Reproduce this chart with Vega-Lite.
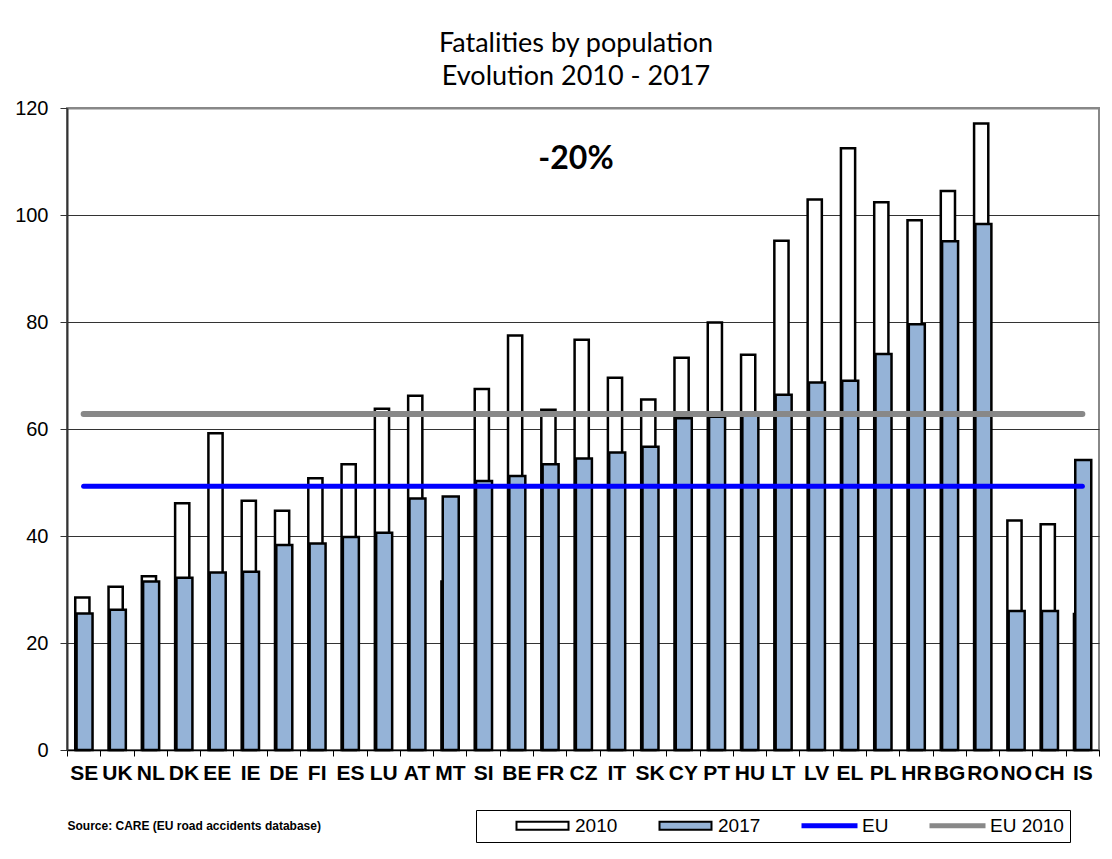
{
  "$schema": "https://vega.github.io/schema/vega-lite/v6.json",
  "width": 1032,
  "height": 642,
  "autosize": {"type": "none"},
  "padding": {"left": 67, "top": 108, "right": 13, "bottom": 109},
  "background": "white",
  "title": {
    "text": ["Fatalities by population", "Evolution 2010 - 2017"],
    "font": "Lato",
    "fontSize": 27,
    "fontWeight": "normal",
    "color": "black",
    "anchor": "middle",
    "lineHeight": 33,
    "offset": 7,
    "dx": -7
  },
  "datasets": {
    "bars": [
      {"country": "SE", "y2010": 28.5, "y2017": 25.5},
      {"country": "UK", "y2010": 30.5, "y2017": 26.2},
      {"country": "NL", "y2010": 32.5, "y2017": 31.5},
      {"country": "DK", "y2010": 46.1, "y2017": 32.2},
      {"country": "EE", "y2010": 59.2, "y2017": 33.2},
      {"country": "IE", "y2010": 46.6, "y2017": 33.3},
      {"country": "DE", "y2010": 44.7, "y2017": 38.3},
      {"country": "FI", "y2010": 50.8, "y2017": 38.6},
      {"country": "ES", "y2010": 53.4, "y2017": 39.8},
      {"country": "LU", "y2010": 63.8, "y2017": 40.6},
      {"country": "AT", "y2010": 66.2, "y2017": 47.0},
      {"country": "MT", "y2010": 31.5, "y2017": 47.4},
      {"country": "SI", "y2010": 67.5, "y2017": 50.3},
      {"country": "BE", "y2010": 77.5, "y2017": 51.2},
      {"country": "FR", "y2010": 63.6, "y2017": 53.4},
      {"country": "CZ", "y2010": 76.7, "y2017": 54.5},
      {"country": "IT", "y2010": 69.6, "y2017": 55.6},
      {"country": "SK", "y2010": 65.5, "y2017": 56.7},
      {"country": "CY", "y2010": 73.3, "y2017": 62.0},
      {"country": "PT", "y2010": 79.9, "y2017": 62.3},
      {"country": "HU", "y2010": 73.9, "y2017": 62.6},
      {"country": "LT", "y2010": 95.2, "y2017": 66.4},
      {"country": "LV", "y2010": 102.9, "y2017": 68.7},
      {"country": "EL", "y2010": 112.5, "y2017": 69.0},
      {"country": "PL", "y2010": 102.4, "y2017": 74.0},
      {"country": "HR", "y2010": 99.0, "y2017": 79.6},
      {"country": "BG", "y2010": 104.5, "y2017": 95.1},
      {"country": "RO", "y2010": 117.1, "y2017": 98.3},
      {"country": "NO", "y2010": 42.9, "y2017": 26.0},
      {"country": "CH", "y2010": 42.2, "y2017": 26.0},
      {"country": "IS", "y2010": 25.4, "y2017": 54.2}
    ],
    "eu": [
      {"country": "SE", "value": 49.3},
      {"country": "IS", "value": 49.3}
    ],
    "eu2010": [
      {"country": "SE", "value": 62.8},
      {"country": "IS", "value": 62.8}
    ],
    "note": [
      {"country": "CZ", "value": 110.5, "label": "-20%"}
    ],
    "legend": [
      {"series": "2010"},
      {"series": "2017"},
      {"series": "EU"},
      {"series": "EU 2010"}
    ]
  },
  "config": {
    "view": {"stroke": "#888888", "strokeWidth": 2},
    "axis": {
      "labelFont": "Liberation Sans",
      "labelColor": "#000000",
      "tickColor": "#000000",
      "domainColor": "#000000"
    },
    "axisX": {
      "labelFontSize": 21,
      "labelFontWeight": "bold",
      "labelAngle": 0,
      "tickBand": "extent",
      "tickSize": 6,
      "labelPadding": 6,
      "domainWidth": 1.5,
      "grid": false,
      "titleFont": "Liberation Sans",
      "titleFontSize": 12,
      "titleFontWeight": "bold",
      "titleColor": "#000000",
      "titleAnchor": "start",
      "titlePadding": 37
    },
    "axisY": {
      "labelFontSize": 20,
      "tickSize": 7,
      "tickColor": "#333333",
      "labelPadding": 12,
      "domainWidth": 2,
      "domainColor": "#333333",
      "grid": true
    }
  },
  "layer": [
    {
      "data": {"name": "bars"},
      "mark": {"type": "bar", "size": 14.2, "fill": "white", "stroke": "black", "strokeWidth": 2.5, "xOffset": -1.3},
      "encoding": {
        "x": {
          "field": "country",
          "type": "nominal",
          "sort": ["SE","UK","NL","DK","EE","IE","DE","FI","ES","LU","AT","MT","SI","BE","FR","CZ","IT","SK","CY","PT","HU","LT","LV","EL","PL","HR","BG","RO","NO","CH","IS"],
          "scale": {"paddingInner": 0, "paddingOuter": 0},
          "title": "Source: CARE (EU road accidents database)"
        },
        "y": {
          "field": "y2010",
          "type": "quantitative",
          "scale": {"domain": [0, 120], "nice": false},
          "title": null,
          "axis": {
            "values": [0, 20, 40, 60, 80, 100, 120],
            "gridColor": {"condition": {"test": "datum.value === 120", "value": "#888888"}, "value": "#333333"},
            "gridWidth": {"condition": {"test": "datum.value === 120", "value": 2}, "value": 1}
          }
        }
      }
    },
    {
      "data": {"name": "bars"},
      "mark": {"type": "bar", "size": 16, "fill": "#95B3D7", "stroke": "black", "strokeWidth": 2.5, "xOffset": 0.9},
      "encoding": {
        "x": {"field": "country", "type": "nominal", "sort": ["SE","UK","NL","DK","EE","IE","DE","FI","ES","LU","AT","MT","SI","BE","FR","CZ","IT","SK","CY","PT","HU","LT","LV","EL","PL","HR","BG","RO","NO","CH","IS"], "title": "Source: CARE (EU road accidents database)"},
        "y": {"field": "y2017", "type": "quantitative", "title": null}
      }
    },
    {
      "data": {"name": "eu2010"},
      "mark": {"type": "line", "stroke": "#888888", "strokeWidth": 6, "strokeCap": "round"},
      "encoding": {
        "x": {"field": "country", "type": "nominal", "sort": ["SE","UK","NL","DK","EE","IE","DE","FI","ES","LU","AT","MT","SI","BE","FR","CZ","IT","SK","CY","PT","HU","LT","LV","EL","PL","HR","BG","RO","NO","CH","IS"], "title": "Source: CARE (EU road accidents database)"},
        "y": {"field": "value", "type": "quantitative", "title": null}
      }
    },
    {
      "data": {"name": "eu"},
      "mark": {"type": "line", "stroke": "#0000FF", "strokeWidth": 5, "strokeCap": "round"},
      "encoding": {
        "x": {"field": "country", "type": "nominal", "sort": ["SE","UK","NL","DK","EE","IE","DE","FI","ES","LU","AT","MT","SI","BE","FR","CZ","IT","SK","CY","PT","HU","LT","LV","EL","PL","HR","BG","RO","NO","CH","IS"], "title": "Source: CARE (EU road accidents database)"},
        "y": {"field": "value", "type": "quantitative", "title": null}
      }
    },
    {
      "data": {"name": "note"},
      "mark": {"type": "text", "font": "Lato", "fontSize": 32, "fontWeight": "bold", "color": "black", "align": "center", "baseline": "middle", "dx": -7},
      "encoding": {
        "x": {"field": "country", "type": "nominal", "sort": ["SE","UK","NL","DK","EE","IE","DE","FI","ES","LU","AT","MT","SI","BE","FR","CZ","IT","SK","CY","PT","HU","LT","LV","EL","PL","HR","BG","RO","NO","CH","IS"], "title": "Source: CARE (EU road accidents database)"},
        "y": {"field": "value", "type": "quantitative", "title": null},
        "text": {"field": "label"}
      }
    },
    {
      "data": {"name": "legend"},
      "mark": {"type": "point", "filled": true, "opacity": 0},
      "encoding": {
        "shape": {
          "field": "series",
          "type": "nominal",
          "scale": {
            "domain": ["2010", "2017", "EU", "EU 2010"],
            "range": ["M-5.2,-0.8H5.2V0.8H-5.2Z", "M-5.2,-0.8H5.2V0.8H-5.2Z", "M-5.4,-0.3H5.4V0.3H-5.4Z", "M-5.4,-0.3H5.4V0.3H-5.4Z"]
          },
          "legend": {
            "orient": "none",
            "legendX": 409,
            "legendY": 702,
            "direction": "horizontal",
            "title": "EU",
            "titleOrient": "left",
            "titleOpacity": 0,
            "titleFontSize": 19,
            "titlePadding": 24,
            "padding": 6,
            "strokeColor": "black",
            "fillColor": "white",
            "symbolSize": 100,
            "symbolStrokeWidth": 2,
            "symbolOpacity": 1,
            "labelFont": "Liberation Sans",
            "labelFontSize": 19,
            "labelColor": "black",
            "labelOffset": 23,
            "columnPadding": 37
          }
        },
        "fill": {
          "field": "series",
          "type": "nominal",
          "scale": {"domain": ["2010", "2017", "EU", "EU 2010"], "range": ["white", "#95B3D7", "#0000FF", "#888888"]}
        },
        "stroke": {
          "field": "series",
          "type": "nominal",
          "scale": {"domain": ["2010", "2017", "EU", "EU 2010"], "range": ["black", "black", "#0000FF", "#888888"]}
        }
      }
    }
  ]
}
